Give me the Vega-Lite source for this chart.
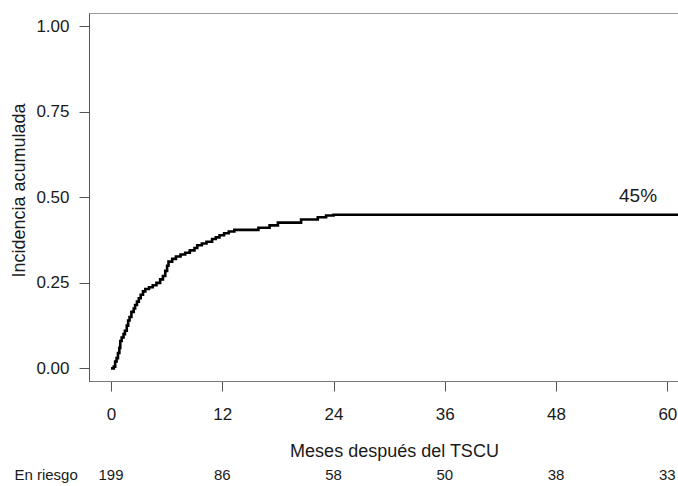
{
  "$schema": "https://vega.github.io/schema/vega-lite/v6.json",
  "width": 589,
  "height": 368,
  "autosize": {"type": "none"},
  "padding": {"left": 89, "top": 13, "right": 0, "bottom": 105},
  "background": "white",
  "config": {
    "view": {"stroke": "#9a9a9a", "strokeWidth": 1},
    "font": "Liberation Sans",
    "text": {"font": "Liberation Sans"}
  },
  "layer": [
    {
      "data": {
        "values": [
          {"month": 0, "value": 0},
          {"month": 0.3, "value": 0.005},
          {"month": 0.45, "value": 0.02},
          {"month": 0.6, "value": 0.03},
          {"month": 0.75, "value": 0.045},
          {"month": 0.9, "value": 0.06},
          {"month": 1.0, "value": 0.08},
          {"month": 1.15, "value": 0.09},
          {"month": 1.35, "value": 0.1},
          {"month": 1.5, "value": 0.11},
          {"month": 1.7, "value": 0.125},
          {"month": 1.85, "value": 0.14},
          {"month": 2.0, "value": 0.15},
          {"month": 2.2, "value": 0.165},
          {"month": 2.45, "value": 0.175},
          {"month": 2.6, "value": 0.185},
          {"month": 2.8, "value": 0.195},
          {"month": 3.0, "value": 0.205},
          {"month": 3.2, "value": 0.215},
          {"month": 3.45, "value": 0.225},
          {"month": 3.7, "value": 0.232},
          {"month": 4.1, "value": 0.237},
          {"month": 4.5, "value": 0.243},
          {"month": 4.9, "value": 0.25},
          {"month": 5.3, "value": 0.26},
          {"month": 5.6, "value": 0.27},
          {"month": 5.85, "value": 0.285},
          {"month": 6.05, "value": 0.3},
          {"month": 6.2, "value": 0.312},
          {"month": 6.6, "value": 0.32},
          {"month": 7.0, "value": 0.327},
          {"month": 7.5, "value": 0.333},
          {"month": 8.0, "value": 0.338},
          {"month": 8.5, "value": 0.345},
          {"month": 9.0, "value": 0.352},
          {"month": 9.3, "value": 0.36},
          {"month": 9.8, "value": 0.365},
          {"month": 10.3, "value": 0.37},
          {"month": 10.9, "value": 0.378},
          {"month": 11.3, "value": 0.383},
          {"month": 11.7, "value": 0.389},
          {"month": 12.2, "value": 0.395},
          {"month": 12.7, "value": 0.4},
          {"month": 13.3, "value": 0.405},
          {"month": 15.9, "value": 0.411},
          {"month": 17.1, "value": 0.418},
          {"month": 18.0, "value": 0.426},
          {"month": 20.5, "value": 0.435},
          {"month": 22.3, "value": 0.442},
          {"month": 23.2, "value": 0.447},
          {"month": 24.0, "value": 0.449},
          {"month": 62, "value": 0.449}
        ]
      },
      "mark": {"type": "line", "interpolate": "step-after", "color": "black", "strokeWidth": 2.6, "clip": true},
      "encoding": {
        "x": {
          "field": "month",
          "type": "quantitative",
          "scale": {"domain": [-2.373, 61.15], "nice": false, "zero": false},
          "axis": {
            "values": [0, 12, 24, 36, 48, 60],
            "grid": false,
            "domain": true,
            "domainColor": "#777777",
            "tickColor": "#555555",
            "tickSize": 10,
            "labelFontSize": 17,
            "labelColor": "#1a1a1a",
            "labelPadding": 15,
            "labelFlush": false,
            "title": "Meses después del TSCU",
            "titleFontSize": 18,
            "titleFontWeight": "normal",
            "titleColor": "#1a1a1a",
            "titlePadding": 20,
            "titleX": 305
          }
        },
        "y": {
          "field": "value",
          "type": "quantitative",
          "scale": {"domain": [-0.037, 1.039], "nice": false, "zero": false},
          "axis": {
            "values": [0, 0.25, 0.5, 0.75, 1],
            "format": ".2f",
            "grid": false,
            "domain": true,
            "domainColor": "#555555",
            "tickColor": "#555555",
            "tickSize": 10,
            "labelFontSize": 17,
            "labelColor": "#1a1a1a",
            "labelPadding": 10,
            "title": "Incidencia acumulada",
            "titleFontSize": 18,
            "titleFontWeight": "normal",
            "titleColor": "#1a1a1a",
            "titlePadding": 7,
            "titleY": 177
          }
        }
      }
    },
    {
      "data": {"values": [{"month": 56.84, "value": 0.504, "label": "45%"}]},
      "mark": {"type": "text", "fontSize": 19, "color": "#1a1a1a", "align": "center", "baseline": "middle"},
      "encoding": {
        "x": {"field": "month", "type": "quantitative"},
        "y": {"field": "value", "type": "quantitative"},
        "text": {"field": "label"}
      }
    },
    {
      "data": {
        "values": [
          {"month": -7.0, "value": -0.311, "label": "En riesgo"},
          {"month": 0, "value": -0.311, "label": "199"},
          {"month": 12, "value": -0.311, "label": "86"},
          {"month": 24, "value": -0.311, "label": "58"},
          {"month": 36, "value": -0.311, "label": "50"},
          {"month": 48, "value": -0.311, "label": "38"},
          {"month": 60, "value": -0.311, "label": "33"}
        ]
      },
      "mark": {"type": "text", "fontSize": 15, "color": "#1a1a1a", "align": "center", "baseline": "middle", "clip": false},
      "encoding": {
        "x": {"field": "month", "type": "quantitative"},
        "y": {"field": "value", "type": "quantitative"},
        "text": {"field": "label"}
      }
    }
  ]
}
